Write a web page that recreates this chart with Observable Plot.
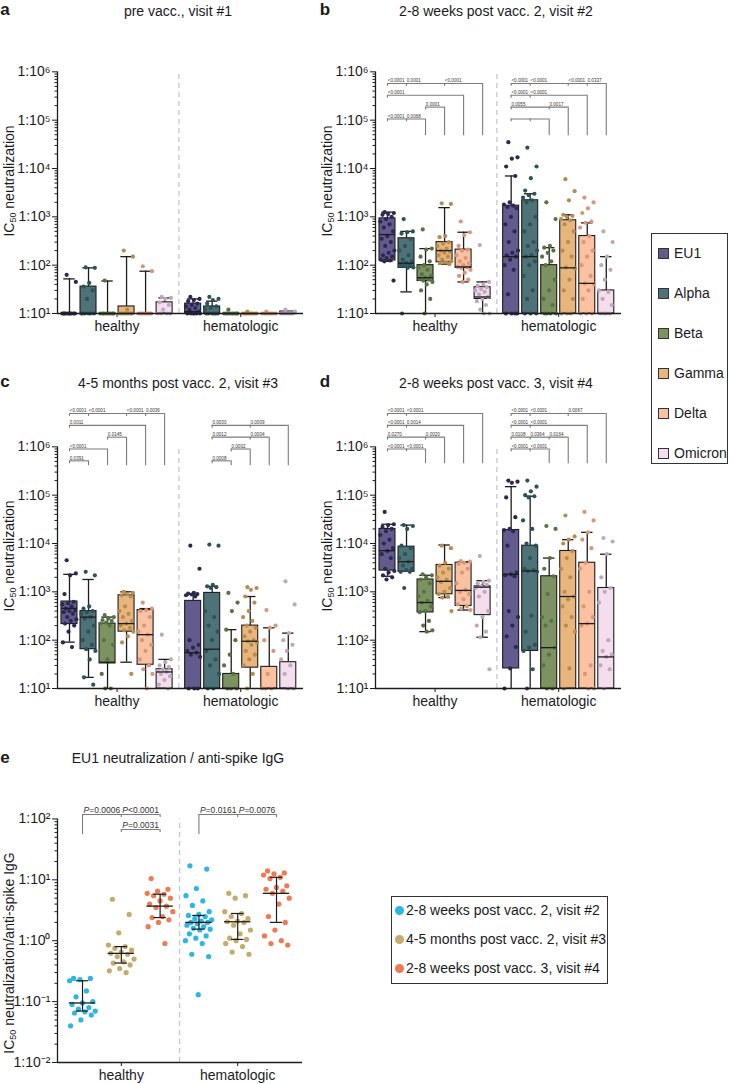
<!DOCTYPE html>
<html><head><meta charset="utf-8">
<script src="https://cdn.jsdelivr.net/npm/d3@7"></script>
<script src="https://cdn.jsdelivr.net/npm/@observablehq/plot@0.6"></script>
<style>
body{margin:0;background:#fff;font-family:"Liberation Sans",Arial,sans-serif;color:#1a1a1a;}
#root{position:relative;width:732px;height:1084px;overflow:hidden;}
.t{position:absolute;white-space:nowrap;line-height:1;}
.c{transform:translate(-50%,-50%);}
.title{font-size:14px;}
.letter{font-size:17px;font-weight:bold;}
.ylab{font-size:14px;transform:translate(-50%,-50%) rotate(-90deg);}
.ylab sub{font-size:9px;vertical-align:-2px;line-height:0;}
.leg{font-size:14px;transform:translateY(-50%);}
</style></head><body><div id="root"></div>
<script>
// ---------------- DATA ----------------
const variants = ["EU1","Alpha","Beta","Gamma","Delta","Omicron"];
const variantFill = ["#625c8e","#4d7278","#7c9361","#e8b67c","#fbc2a1","#f4deee"];
const variantDot  = ["#2c2850","#2d5257","#5b7144","#b88b53","#d8977b","#bea8bf"];
const groups = ["healthy","hematologic"];
const boxTicks = [1e1,1e2,1e3,1e4,1e5,1e6];
const panelLetters = ["a","b","c","d","e"];
const panelTitles = ["pre vacc., visit #1","2-8 weeks post vacc. 2, visit #2","4-5 months post vacc. 2, visit #3","2-8 weeks post vacc. 3, visit #4","EU1 neutralization / anti-spike IgG"];
const yLabelBox = "IC<sub>50</sub> neutralization";
const yLabelE = "IC<sub>50</sub> neutralization/anti-spike IgG";

// box summaries: [group, variant, whiskerLow, q1, median, q3, whiskerHigh]
const boxA = [
 ["healthy","EU1",10,10,10,10,52],["healthy","Alpha",10,10,10,36,88],["healthy","Beta",10,10,10,10,47],
 ["healthy","Gamma",10,10,10,14,150],["healthy","Delta",10,10,10,10,75],["healthy","Omicron",10,10,10,17,21],
 ["hematologic","EU1",10,10,11,16,20],["hematologic","Alpha",10,10,10,14,18],["hematologic","Beta",10,10,10,10,10],
 ["hematologic","Gamma",10,10,10,10,10],["hematologic","Delta",10,10,10,10,10],["hematologic","Omicron",10,10,10,11,11]
];
const boxB = [
 ["healthy","EU1",120,125,430,930,1250],["healthy","Alpha",28,88,110,360,500],["healthy","Beta",10,47,55,100,220],
 ["healthy","Gamma",105,115,200,300,1550],["healthy","Delta",45,88,92,210,480],["healthy","Omicron",10,20,22,35,45],
 ["hematologic","EU1",10,10,150,1700,7000],["hematologic","Alpha",10,10,150,2200,3000],["hematologic","Beta",10,10,10,100,230],
 ["hematologic","Gamma",10,10,88,850,1100],["hematologic","Delta",10,10,42,400,750],["hematologic","Omicron",10,10,10,30,150]
];
const boxC = [
 ["healthy","EU1",91,215,455,630,2300],["healthy","Alpha",17,65,300,400,1800],["healthy","Beta",10,33,35,220,300],
 ["healthy","Gamma",35,150,220,850,1000],["healthy","Delta",10,31,130,420,450],["healthy","Omicron",10,10,22,25,40],
 ["hematologic","EU1",10,10,55,650,900],["hematologic","Alpha",10,10,65,950,1300],["hematologic","Beta",10,10,10,20,165],
 ["hematologic","Gamma",10,27,95,200,800],["hematologic","Delta",10,10,10,28,180],["hematologic","Omicron",10,10,10,35,140]
];
const boxD = [
 ["healthy","EU1",2100,2750,7100,20000,25000],["healthy","Alpha",2600,2600,4200,8600,24000],["healthy","Beta",150,375,600,1800,2200],
 ["healthy","Gamma",760,890,1650,3600,9300],["healthy","Delta",420,510,1070,4000,4200],["healthy","Omicron",115,330,1250,1300,1700],
 ["hematologic","EU1",10,26,2300,19000,150000],["hematologic","Alpha",10,60,2700,9000,95000],["hematologic","Beta",10,10,70,2100,5000],
 ["hematologic","Gamma",10,10,800,7000,12000],["hematologic","Delta",10,10,220,4000,17000],["hematologic","Omicron",10,10,45,1200,6000]
];

// individual values: [group, variant, values]
const ptsA = [
 ["healthy","EU1",[63,45,10,10,10,10,10,10,10,10,10,10]],
 ["healthy","Alpha",[90,88,43,36,30,20,10,10,10,10,10,10]],
 ["healthy","Beta",[48,10,10,10,10,10,10,10,10,10]],
 ["healthy","Gamma",[200,150,12,10,10,10,10,10,10,10,10]],
 ["healthy","Delta",[95,75,10,10,10,10,10,10,10,10]],
 ["healthy","Omicron",[22,21,20,17,15,12,10,10,10,10]],
 ["hematologic","EU1",[22,20,19,18,16,15,14,13,12,11,10,10,10,10,10,10]],
 ["hematologic","Alpha",[22,20,19,16,14,13,12,10,10,10,10,10,10]],
 ["hematologic","Beta",[12,10,10,10,10,10,10,10,10,10]],
 ["hematologic","Gamma",[11,10,10,10,10,10,10,10,10]],
 ["hematologic","Delta",[11,10,10,10,10,10,10,10,10]],
 ["hematologic","Omicron",[12,11,10,10,10,10,10,10,10]]
];
const ptsB = [
 ["healthy","EU1",[1250,1200,1150,1100,1000,900,800,700,600,500,400,350,300,250,200,180,160,150,140,130,125,120,48]],
 ["healthy","Alpha",[900,500,480,450,350,250,200,160,130,120,110,105,100,95,90,88,10]],
 ["healthy","Beta",[550,220,210,150,120,100,90,80,65,60,55,52,50,48,45,40,30,20,10]],
 ["healthy","Gamma",[1900,1850,400,380,300,280,250,220,200,190,180,160,150,130,120,115,110,105]],
 ["healthy","Delta",[800,480,420,250,210,200,160,140,120,110,100,92,90,88,80,70,60,50,45]],
 ["healthy","Omicron",[260,45,40,38,35,32,30,28,25,22,20,18,15,12,10,10]],
 ["hematologic","EU1",[35000,17000,16000,11000,7000,2000,1800,1700,1600,1500,1000,700,500,300,200,180,160,150,130,100,80,25,10,10,10,10]],
 ["hematologic","Alpha",[27000,11000,6300,3500,3000,2800,2500,2200,2000,1000,700,500,300,250,200,160,150,120,100,60,30,20,10,10,10]],
 ["hematologic","Beta",[2000,900,250,230,200,180,150,120,100,50,30,20,15,10,10,10,10]],
 ["hematologic","Gamma",[6000,3400,2200,1100,1050,1000,900,850,700,500,300,200,150,90,85,50,30,20,10,10,10]],
 ["hematologic","Delta",[2500,2000,1500,1200,800,750,600,400,300,200,150,100,60,42,40,30,20,10,10,10]],
 ["hematologic","Omicron",[500,300,150,100,80,50,30,28,20,15,10,10,10,10]]
];
const ptsC = [
 ["healthy","EU1",[4500,2400,2200,900,620,580,550,500,450,420,400,380,350,300,270,250,220,200,150,90,72]],
 ["healthy","Alpha",[2600,2200,500,450,400,380,350,300,280,200,150,100,80,65,60,40,17,12]],
 ["healthy","Beta",[330,300,280,260,250,230,220,200,100,80,40,20,10,10]],
 ["healthy","Gamma",[1000,950,900,850,800,500,400,350,300,250,220,200,180,160,150,120,90,20]],
 ["healthy","Delta",[600,450,420,400,300,200,150,130,100,80,60,40,30,25,20,10]],
 ["healthy","Omicron",[130,40,35,30,28,25,23,22,20,18,15,12,10]],
 ["hematologic","EU1",[9000,3000,950,920,900,880,850,800,100,80,70,60,55,50,45,10,10,10]],
 ["hematologic","Alpha",[9500,9000,1400,1300,1250,1200,400,300,200,150,100,60,40,30,20,10,10]],
 ["hematologic","Beta",[950,600,400,165,100,50,30,20,10,10,10]],
 ["hematologic","Gamma",[1250,1200,1100,800,600,400,300,250,200,180,150,120,100,95,90,80,60,50,40,30,20,10]],
 ["hematologic","Delta",[420,200,180,100,60,20,10,10,10]],
 ["hematologic","Omicron",[1650,550,140,100,80,60,40,30,20,10,10]]
];
const ptsD = [
 ["healthy","EU1",[45000,25000,24000,22000,20000,18000,15000,12000,10000,8000,7000,6000,5000,3000,2700,2500,2200,2000,1800]],
 ["healthy","Alpha",[24000,23000,20000,9000,8000,6000,5000,4200,3500,3000,2800,2600,2600,1200]],
 ["healthy","Beta",[2300,2200,2000,1800,1500,1000,800,650,600,500,400,380,250,200,160,150]],
 ["healthy","Gamma",[9000,8000,4000,3500,3000,2500,2000,1800,1600,1200,1000,900,800,760,400]],
 ["healthy","Delta",[4300,4200,4000,3800,3000,2500,1500,1100,1000,900,700,550,500,450,420]],
 ["healthy","Omicron",[5500,1700,1600,1500,1400,1300,1200,1000,800,400,300,200,150,115,25]],
 ["hematologic","EU1",[200000,190000,180000,90000,35000,20000,19000,18000,9000,2500,2300,2200,2100,400,300,200,120,72,26,10]],
 ["hematologic","Alpha",[200000,150000,120000,100000,95000,90000,30000,20000,10000,9000,5000,3000,2800,2700,2600,320,150,80,70,60,25,10]],
 ["hematologic","Beta",[23000,20000,5000,3000,2100,900,300,250,200,70,50,30,10,10]],
 ["hematologic","Gamma",[38000,14000,12000,10000,7000,5000,3000,2000,1000,800,700,500,300,200,150,26,10]],
 ["hematologic","Delta",[45000,30000,17000,12000,8000,4000,3000,1000,500,300,220,200,30,20,10,10]],
 ["hematologic","Omicron",[13000,11000,6000,2000,1200,1000,600,100,60,50,45,30,25,10]]
];

// significance brackets: long = reference variant, ticks = compared variants, labels anchored at a variant
const brB = [
 {g:"healthy",row:0,long:"Omicron",ticks:["EU1","Alpha","Gamma"],labels:[["EU1","<0.0001"],["Alpha","0.0001"],["Gamma","<0.0001"]]},
 {g:"healthy",row:1,long:"Delta",ticks:["EU1"],labels:[["EU1","<0.0001"]]},
 {g:"healthy",row:2,long:"Gamma",ticks:["Beta"],labels:[["Beta","0.0001"]]},
 {g:"healthy",row:3,long:"Beta",ticks:["EU1","Alpha"],labels:[["EU1","<0.0001"],["Alpha","0.0068"]]},
 {g:"hematologic",row:0,long:"Omicron",ticks:["EU1","Alpha","Gamma","Delta"],labels:[["EU1","<0.0001"],["Alpha","<0.0001"],["Gamma","<0.0001"],["Delta","0.0337"]]},
 {g:"hematologic",row:1,long:"Delta",ticks:["EU1","Alpha"],labels:[["EU1","<0.0001"],["Alpha","<0.0001"]]},
 {g:"hematologic",row:2,long:"Gamma",ticks:["EU1","Beta"],labels:[["EU1","0.0055"],["Beta","0.0017"]]},
 {g:"hematologic",row:3,long:"Beta",ticks:["EU1","Alpha"],labels:[]}
];
const brC = [
 {g:"healthy",row:0,long:"Omicron",ticks:["EU1","Alpha","Gamma","Delta"],labels:[["EU1","<0.0001"],["Alpha","<0.0001"],["Gamma","<0.0001"],["Delta","0.0036"]]},
 {g:"healthy",row:1,long:"Delta",ticks:["EU1"],labels:[["EU1","0.0011"]]},
 {g:"healthy",row:2,long:"Gamma",ticks:["Beta"],labels:[["Beta","0.0145"]]},
 {g:"healthy",row:3,long:"Beta",ticks:["EU1"],labels:[["EU1","<0.0001"]]},
 {g:"healthy",row:4,long:"Alpha",ticks:["EU1"],labels:[["EU1","0.0391"]]},
 {g:"hematologic",row:1,long:"Omicron",ticks:["Alpha","Gamma"],labels:[["Alpha","0.0030"],["Gamma","0.0009"]]},
 {g:"hematologic",row:2,long:"Delta",ticks:["Alpha","Gamma"],labels:[["Alpha","0.0012"],["Gamma","0.0004"]]},
 {g:"hematologic",row:3,long:"Gamma",ticks:["Beta"],labels:[["Beta","0.0002"]]},
 {g:"hematologic",row:4,long:"Beta",ticks:["Alpha"],labels:[["Alpha","0.0008"]]}
];
const brD = [
 {g:"healthy",row:0,long:"Omicron",ticks:["EU1","Alpha"],labels:[["EU1","<0.0001"],["Alpha","<0.0001"]]},
 {g:"healthy",row:1,long:"Delta",ticks:["EU1","Alpha"],labels:[["EU1","<0.0001"],["Alpha","0.0014"]]},
 {g:"healthy",row:2,long:"Gamma",ticks:["EU1","Beta"],labels:[["EU1","0.0270"],["Beta","0.0020"]]},
 {g:"healthy",row:3,long:"Beta",ticks:["EU1","Alpha"],labels:[["EU1","<0.0001"],["Alpha","<0.0001"]]},
 {g:"hematologic",row:0,long:"Omicron",ticks:["EU1","Alpha","Gamma"],labels:[["EU1","<0.0001"],["Alpha","<0.0001"],["Gamma","0.0067"]]},
 {g:"hematologic",row:1,long:"Delta",ticks:["EU1","Alpha"],labels:[["EU1","<0.0001"],["Alpha","<0.0001"]]},
 {g:"hematologic",row:2,long:"Gamma",ticks:["EU1","Alpha","Beta"],labels:[["EU1","0.0108"],["Alpha","0.0364"],["Beta","0.0164"]]},
 {g:"hematologic",row:3,long:"Beta",ticks:["EU1","Alpha"],labels:[["EU1","<0.0001"],["Alpha","<0.0001"]]}
];

// panel e
const eVisits = ["2-8 weeks post vacc. 2, visit #2","4-5 months post vacc. 2, visit #3","2-8 weeks post vacc. 3, visit #4"];
const eColors = ["#2cb6e4","#c6ab6a","#ee7a52"];
const eTicks = [1e-2,1e-1,1e0,1e1,1e2];
// [group, visitIndex, q1, median, q3]
const eStats = [
 ["healthy",0,0.07,0.095,0.22],["healthy",1,0.43,0.62,0.80],["healthy",2,2.4,3.7,5.8],
 ["hematologic",0,1.55,2.0,2.6],["hematologic",1,1.05,2.05,2.8],["hematologic",2,2.0,6.0,11]
];
const ePts = [
 ["healthy",0,[0.24,0.24,0.23,0.22,0.15,0.12,0.10,0.095,0.09,0.08,0.075,0.07,0.068,0.065,0.06,0.05,0.04]],
 ["healthy",1,[4.8,2.7,1.35,0.85,0.8,0.75,0.7,0.65,0.62,0.6,0.55,0.5,0.45,0.43,0.4,0.35,0.32,0.3]],
 ["healthy",2,[10.5,7,6.5,6,5.8,5.5,5,4.5,4,3.7,3.5,3,2.5,2.4,2.2,2,1.7,0.9]],
 ["hematologic",0,[17,15,7.2,5.5,4.5,3.8,3,2.7,2.6,2.5,2.3,2.2,2.1,2,2,1.9,1.8,1.7,1.6,1.55,1.5,1.3,1.2,1.1,1.0,0.9,0.6,0.55,0.13]],
 ["hematologic",1,[6,5.5,5,3,2.8,2.5,2.3,2.1,2.05,2,1.8,1.5,1.3,1.1,1.05,1.0,0.9,0.8,0.65,0.6]],
 ["hematologic",2,[14,13,12.5,12,11,10.5,8,7.5,7,6.5,6,5,4,2.5,2,1.5,1.2,1.0,0.9,0.85]]
];
const eBrackets = [
 {g:"healthy",row:0,long:0,ticks:[1,2],labels:[[0,"P=0.0006"],[1,"P<0.0001"]]},
 {g:"healthy",row:1,long:null,ticks:[1,2],labels:[[1,"P=0.0031"]]},
 {g:"hematologic",row:0,long:0,ticks:[1,2],labels:[[0,"P=0.0161"],[1,"P=0.0076"]]}
];

// ---------------- RENDER ----------------
const root = document.getElementById("root");
const FONT = "'Liberation Sans', Arial, sans-serif";
const SUP = {"-":"\u207B","0":"\u2070","1":"\u00B9","2":"\u00B2","3":"\u00B3","4":"\u2074","5":"\u2075","6":"\u2076","7":"\u2077","8":"\u2078","9":"\u2079"};
const fmtPow = d => "1:10" + String(Math.round(Math.log10(d))).replace(/[-0-9]/g, c => SUP[c]);
const INK = "#1c1c1c";
const PSIZE = 5.2;
const style = {fontFamily: FONT, fontSize: "14px", background: "none", overflow: "visible", color: INK};

function addText(html, cls, x, y) {
  const d = document.createElement("div");
  d.className = "t " + cls; d.innerHTML = html;
  d.style.left = x + "px"; d.style.top = y + "px";
  root.appendChild(d); return d;
}
function addSvg(svg, left, top) {
  svg.style.position = "absolute"; svg.style.left = left + "px"; svg.style.top = top + "px";
  root.appendChild(svg);
  // condense the small p-value labels slightly (narrow typeface look)
  svg.querySelectorAll('g[font-size="' + PSIZE + '"] text').forEach(t => {
    const L = t.getComputedTextLength();
    if (L > 0) { t.setAttribute("textLength", (L * 0.88).toFixed(2)); t.setAttribute("lengthAdjust", "spacingAndGlyphs"); }
  });
}
function minorTicks(k0, k1) { const a = []; for (let k = k0; k < k1; k++) for (let m = 2; m < 10; m++) a.push(m * 10 ** k); return a; }

const xDomainBox = [-0.63, 12.3];
const groupOffset = 6.5;
const xPos = (g, v) => groups.indexOf(g) * groupOffset + variants.indexOf(v);

function bracketMarks(brs, posFn, lay, textOpts) {
  const H = [], T = [], L = [], TX = [];
  const rowY = r => 10 ** (lay.rowTop - r * lay.rowStep);
  for (const b of brs) {
    const y = rowY(b.row);
    const xs = b.ticks.map(v => posFn(b.g, v));
    if (b.long !== null) xs.push(posFn(b.g, b.long));
    H.push({x1: Math.min(...xs), x2: Math.max(...xs), y});
    b.ticks.forEach(v => T.push({x: posFn(b.g, v), y}));
    if (b.long !== null) L.push({x: posFn(b.g, b.long), y});
    b.labels.forEach(([v, t]) => TX.push({x: posFn(b.g, v), y, t}));
  }
  const stroke = "#7b7b7b";
  const marks = [
    Plot.ruleY(H, {y: "y", x1: "x1", x2: "x2", stroke, strokeWidth: 1.1}),
    Plot.ruleX(T, {x: "x", y1: "y", y2: d => d.y / 10 ** lay.tick, stroke, strokeWidth: 1.1}),
    Plot.ruleX(L, {x: "x", y1: "y", y2: 10 ** lay.base, stroke, strokeWidth: 1.1})
  ];
  if (textOpts.italicFirst) {
    marks.push(Plot.text(TX, {x: "x", y: "y", text: d => d.t[0], textAnchor: "start", lineAnchor: "bottom", dx: 1, dy: -1.5, fontSize: textOpts.size, fontStyle: "italic", fontFamily: FONT, fill: "#333"}));
    marks.push(Plot.text(TX, {x: "x", y: "y", text: d => d.t.slice(1), textAnchor: "start", lineAnchor: "bottom", dx: 1 + textOpts.size * 0.667, dy: -1.5, fontSize: textOpts.size, fontFamily: FONT, fill: "#333"}));
  } else {
    marks.push(Plot.text(TX, {x: "x", y: "y", text: "t", textAnchor: "start", lineAnchor: "bottom", dx: 0.3, dy: -1, fontSize: textOpts.size, fontFamily: FONT, fill: "#333"}));
  }
  return marks;
}

function boxPanel(boxes, pts, brs, lay) {
  const B = boxes.map(([g, v, lo, q1, med, q3, hi]) => ({x: xPos(g, v), fill: variantFill[variants.indexOf(v)], lo, q1, med, q3, hi}));
  const D = pts.flatMap(([g, v, vals]) => vals.map((y, j) => ({
    x: xPos(g, v) + (((j * 0.618034 + 0.31) % 1) - 0.5) * 0.78, y, fill: variantDot[variants.indexOf(v)]
  })));
  const hw = 0.42, cw = 0.3;
  return Plot.plot({
    width: 360, height: 343, marginLeft: 57, marginRight: 57, marginTop: 23, marginBottom: 30,
    style,
    x: {type: "linear", domain: xDomainBox},
    y: {type: "log", domain: [10, 1e7]},
    color: {type: "identity"},
    marks: [
      Plot.ruleX([groupOffset - 0.75], {y1: 10, y2: 1e6, stroke: "#c8c8c8", strokeWidth: 1.3, strokeDasharray: "5,4"}),
      Plot.ruleX(B, {x: "x", y1: "q3", y2: "hi", stroke: INK, strokeWidth: 1.3}),
      Plot.ruleX(B, {x: "x", y1: "lo", y2: "q1", stroke: INK, strokeWidth: 1.3}),
      Plot.ruleY(B.filter(d => d.hi > d.q3), {y: "hi", x1: d => d.x - cw, x2: d => d.x + cw, stroke: INK, strokeWidth: 1.3}),
      Plot.ruleY(B.filter(d => d.lo < d.q1 && d.lo > 10), {y: "lo", x1: d => d.x - cw, x2: d => d.x + cw, stroke: INK, strokeWidth: 1.3}),
      Plot.rect(B, {x1: d => d.x - hw, x2: d => d.x + hw, y1: "q1", y2: "q3", fill: "fill", stroke: INK, strokeWidth: 1.1}),
      Plot.dot(D, {x: "x", y: "y", r: 2.1, fill: "fill"}),
      Plot.ruleY(B, {y: "med", x1: d => d.x - hw, x2: d => d.x + hw, stroke: INK, strokeWidth: 1.3}),
      ...bracketMarks(brs, xPos, lay, {size: PSIZE}),
      Plot.ruleX([xDomainBox[0]], {y1: 10, y2: 1e6, stroke: INK, strokeWidth: 1.3}),
      Plot.ruleY([10], {stroke: INK, strokeWidth: 1.3}),
      Plot.axisY({ticks: minorTicks(1, 6), tickSize: 2.5, tickFormat: () => "", label: null, stroke: INK}),
      Plot.axisY({ticks: boxTicks, tickSize: 5, tickPadding: 2, tickFormat: fmtPow, label: null, stroke: INK, fill: INK}),
      Plot.axisX({ticks: groups.map((g, i) => i * groupOffset + 2.5), tickFormat: d => groups[Math.round((d - 2.5) / groupOffset)], tickSize: 4, tickPadding: 4, label: null, stroke: INK, fill: INK})
    ]
  });
}

const xDomainE = [-0.645, 5.67];
const ePos = (g, vi) => groups.indexOf(g) * 3 + vi;
function panelE() {
  const S = eStats.map(([g, vi, q1, med, q3]) => ({x: ePos(g, vi), q1, med, q3}));
  const D = ePts.flatMap(([g, vi, vals]) => vals.map((y, j) => ({
    x: ePos(g, vi) + (((j * 0.618034 + 0.17) % 1) - 0.5) * 0.7, y, fill: eColors[vi]
  })));
  const lay = {rowTop: 2.072, rowStep: 0.246, base: 1.744, tick: 0.05};
  return Plot.plot({
    width: 360, height: 324, marginLeft: 57, marginRight: 58, marginTop: 28, marginBottom: 22,
    style,
    x: {type: "linear", domain: xDomainE},
    y: {type: "log", domain: [1e-2, 10 ** 2.5]},
    color: {type: "identity"},
    marks: [
      Plot.ruleX([2.5], {y1: 1e-2, y2: 1e2, stroke: "#c8c8c8", strokeWidth: 1.3, strokeDasharray: "5,4"}),
      Plot.dot(D, {x: "x", y: "y", r: 2.6, fill: "fill"}),
      Plot.ruleX(S, {x: "x", y1: "q1", y2: "q3", stroke: INK, strokeWidth: 1.2}),
      Plot.ruleY(S, {y: "q1", x1: d => d.x - 0.16, x2: d => d.x + 0.16, stroke: INK, strokeWidth: 1.2}),
      Plot.ruleY(S, {y: "q3", x1: d => d.x - 0.16, x2: d => d.x + 0.16, stroke: INK, strokeWidth: 1.2}),
      Plot.ruleY(S, {y: "med", x1: d => d.x - 0.34, x2: d => d.x + 0.34, stroke: INK, strokeWidth: 1.3}),
      ...bracketMarks(eBrackets, ePos, lay, {size: 8.5, italicFirst: true}),
      Plot.ruleX([xDomainE[0]], {y1: 1e-2, y2: 1e2, stroke: INK, strokeWidth: 1.3}),
      Plot.ruleY([1e-2], {stroke: INK, strokeWidth: 1.3}),
      Plot.axisY({ticks: minorTicks(-2, 2), tickSize: 2.5, tickFormat: () => "", label: null, stroke: INK}),
      Plot.axisY({ticks: eTicks, tickSize: 5, tickPadding: 2, tickFormat: fmtPow, label: null, stroke: INK, fill: INK}),
      Plot.axisX({ticks: groups.map((g, i) => i * 3 + 1), tickFormat: d => groups[Math.round((d - 1) / 3)], tickSize: 4, tickPadding: 4, label: null, stroke: INK, fill: INK})
    ]
  });
}

// layout
const boxPanels = [
  {box: boxA, pts: ptsA, br: [], left: 0, top: 0, titleY: 11, lay: {rowTop: 5.76, rowStep: 0.245, base: 4.68, tick: 0.06}},
  {box: boxB, pts: ptsB, br: brB, left: 318, top: 0, titleY: 11, lay: {rowTop: 5.76, rowStep: 0.245, base: 4.68, tick: 0.06}},
  {box: boxC, pts: ptsC, br: brC, left: 0, top: 375, titleY: 383, lay: {rowTop: 6.69, rowStep: 0.245, base: 5.61, tick: 0.06}},
  {box: boxD, pts: ptsD, br: brD, left: 318, top: 375, titleY: 383, lay: {rowTop: 6.69, rowStep: 0.245, base: 5.65, tick: 0.06}}
];
boxPanels.forEach((p, i) => {
  addSvg(boxPanel(p.box, p.pts, p.br, p.lay), p.left, p.top);
  const ax = p.left + 57, y6 = p.top + 71;
  addText(panelLetters[i], "letter c", p.left + (i % 2 ? 7 : 5), p.titleY - 2);
  addText(panelTitles[i], "title c", ax + 121, p.titleY);
  addText(yLabelBox, "ylab", ax - 48, y6 + 110);
});
addSvg(panelE(), 0, 760);
addText(panelLetters[4], "letter c", 5, 757);
addText(panelTitles[4], "title c", 178, 758);
addText(yLabelE, "ylab", 9, 953);

// legend for box panels
const lg = document.createElement("div");
Object.assign(lg.style, {position: "absolute", left: "651px", top: "233px", width: "77px", height: "231px", border: "1px solid #333", boxSizing: "border-box"});
root.appendChild(lg);
variants.forEach((v, i) => {
  const cy = 253 + 40 * i;
  const sq = document.createElement("div");
  Object.assign(sq.style, {position: "absolute", left: "658px", top: (cy - 5.5) + "px", width: "11px", height: "11px", background: variantFill[i], border: "1px solid #333", boxSizing: "border-box"});
  root.appendChild(sq);
  addText(v, "leg", 674, cy);
});
// legend for panel e
const lg2 = document.createElement("div");
Object.assign(lg2.style, {position: "absolute", left: "391px", top: "896px", width: "217px", height: "88px", border: "1px solid #333", boxSizing: "border-box"});
root.appendChild(lg2);
eVisits.forEach((v, i) => {
  const cy = 910 + 29 * i;
  const dt = document.createElement("div");
  Object.assign(dt.style, {position: "absolute", left: "395px", top: (cy - 4.5) + "px", width: "9px", height: "9px", borderRadius: "50%", background: eColors[i]});
  root.appendChild(dt);
  addText(v, "leg", 406, cy);
});
</script></body></html>
